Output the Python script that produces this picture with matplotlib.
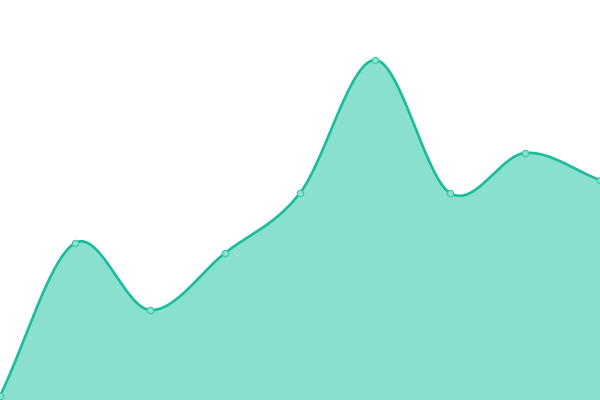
import numpy as np
import matplotlib.pyplot as plt

# data (index 0..8, value = height above bottom)
x_idx = [0, 1, 2, 3, 4, 5, 6, 7, 8]
values = [4, 157, 90, 147, 207, 340, 207, 247, 220]

LINE_COLOR = "#1abc9c"
FILL_COLOR = "#8ae0cf"


def catmull_rom(xs, ys, n=60):
    xs = np.asarray(xs, dtype=float)
    ys = np.asarray(ys, dtype=float)
    # extrapolate phantom end points so the ends keep their slope
    px = np.concatenate([[2 * xs[0] - xs[1]], xs, [2 * xs[-1] - xs[-2]]])
    py = np.concatenate([[2 * ys[0] - ys[1]], ys, [2 * ys[-1] - ys[-2]]])
    out_x, out_y = [], []
    t = np.linspace(0, 1, n)
    for i in range(1, len(px) - 2):
        p0, p1, p2, p3 = py[i - 1], py[i], py[i + 1], py[i + 2]
        yy = 0.5 * ((2 * p1) + (-p0 + p2) * t + (2 * p0 - 5 * p1 + 4 * p2 - p3) * t ** 2
                    + (-p0 + 3 * p1 - 3 * p2 + p3) * t ** 3)
        xx = px[i] + (px[i + 1] - px[i]) * t
        out_x.append(xx)
        out_y.append(yy)
    return np.concatenate(out_x), np.concatenate(out_y)


sx, sy = catmull_rom(x_idx, values)

fig = plt.figure(figsize=(6, 4), dpi=100)
ax = fig.add_axes([0, 0, 1, 1])
ax.fill_between(sx, 0, sy, color=FILL_COLOR, lw=0)
ax.plot(sx, sy, color=LINE_COLOR, lw=1.9, solid_capstyle="round")
ax.plot(x_idx, values, "o", ms=4.5, mfc="#8fe3d2", mec="#3ccaa9", mew=0.9)
ax.set_xlim(0, 8)
ax.set_ylim(0, 400)
ax.axis("off")

fig.savefig("out.png", dpi=100)
